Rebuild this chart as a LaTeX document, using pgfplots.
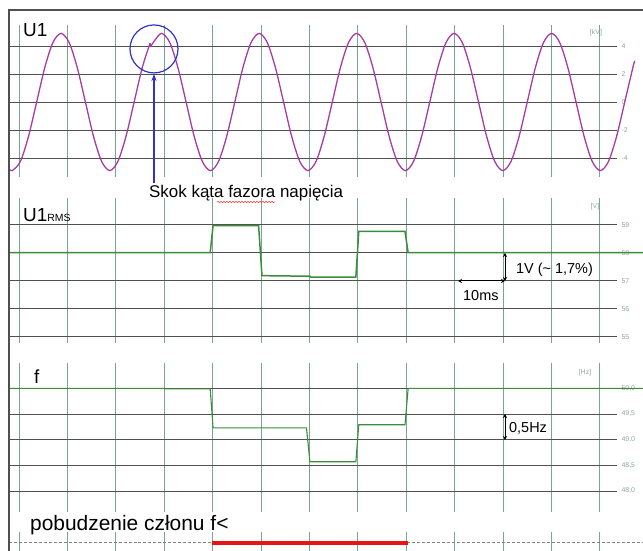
\documentclass[border=0pt]{standalone}
\usepackage{pgfplots}
\pgfplotsset{compat=1.18}
\usepackage{fontspec}
\setmainfont{Liberation Sans}
\usetikzlibrary{arrows.meta,decorations.pathmorphing}
\definecolor{vgrid}{RGB}{120,165,145}
\definecolor{hgrid}{RGB}{80,80,80}
\definecolor{lbl}{RGB}{140,168,158}
\definecolor{wave}{RGB}{165,60,165}
\definecolor{trace}{RGB}{60,140,60}
\definecolor{ann}{RGB}{50,50,200}
\definecolor{redsig}{RGB}{230,20,20}
\pgfplotsset{panel/.style={scale only axis, width=608bp, xmin=-2.066, xmax=123.55, clip=false,
  axis line style={draw=none}, tick style={draw=none},
  xtick={0,10,...,120}, xticklabels={}, xmajorgrids, ymajorgrids,
  x grid style={vgrid, line width=0.9bp}, y grid style={hgrid, line width=0.8bp},
  yticklabel pos=right,
  yticklabel style={font=\fontsize{7}{8}\selectfont, text=lbl, xshift=1bp}}}
\begin{document}
\begin{tikzpicture}
\useasboundingbox (0,0) rectangle (643bp,551bp);
% ---------------- U1
\begin{axis}[panel, at={(9bp,374bp)}, anchor=south west, height=152bp,
  ymin=-5.357, ymax=5.5, ytick={-4,-2,0,2,4}, yticklabels={-4,-2,0,2,4}]
\addplot[wave, line width=1.3bp, smooth] coordinates {
(-2.07,-4.79) (-1.39,-4.9) (0.29,-4.243) (1.97,-2.45) (3.65,0) (5.32,2.45) (7.00,4.243)
(8.68,4.9) (10.36,4.243) (12.04,2.45) (13.72,0) (15.39,-2.45) (17.07,-4.243) (18.75,-4.9)
(20.43,-4.243) (22.11,-2.45) (23.79,0) (25.46,2.45) (27.07,4.19)};
\addplot[wave, line width=1.3bp] coordinates {(27.07,4.19) (27.2,3.95)};
\addplot[wave, line width=1.3bp, smooth] coordinates {
(27.2,3.95) (28.0,4.38) (29.48,4.9) (31.16,4.243) (32.84,2.45) (34.52,0) (36.19,-2.45)
(37.87,-4.243) (39.55,-4.9) (41.23,-4.243) (42.91,-2.45) (44.59,0) (46.26,2.45) (47.94,4.243)
(49.62,4.9) (51.30,4.243) (52.98,2.45) (54.66,0) (56.33,-2.45) (58.01,-4.243) (59.69,-4.9)
(61.37,-4.243) (63.05,-2.45) (64.73,0) (66.40,2.45) (68.08,4.243) (69.76,4.9) (71.44,4.243)
(73.12,2.45) (74.80,0) (76.47,-2.45) (78.15,-4.243) (79.83,-4.9) (81.51,-4.243) (83.19,-2.45)
(84.87,0) (86.54,2.45) (88.22,4.243) (89.90,4.9) (91.58,4.243) (93.26,2.45) (94.94,0)
(96.61,-2.45) (98.29,-4.243) (99.97,-4.9) (101.65,-4.243) (103.33,-2.45) (105.01,0)
(106.68,2.45) (108.36,4.243) (110.04,4.9) (111.72,4.243) (113.40,2.45) (115.08,0)
(116.75,-2.45) (118.43,-4.243) (120.11,-4.9) (121.79,-4.243) (123.47,-2.45) (125.15,0)
(126.82,2.45) (127.2,2.93)};
\draw[ann, line width=1.2bp] (axis cs:27.89,3.79) circle[radius=24bp];
\end{axis}
% ---------------- U1 RMS
\begin{axis}[panel, at={(9bp,208bp)}, anchor=south west, height=145bp,
  ymin=54.775, ymax=59.954, ytick={55,56,57,58,59}, yticklabels={55,56,57,58,59}]
\addplot[trace, line width=1.5bp] coordinates {
(-2.07,58.0) (39.5,58.0) (40.1,58.97) (49.5,58.97) (50.2,57.18) (60.1,57.16) (60.3,57.13)
(69.6,57.13) (70.2,58.76) (79.75,58.76) (80.4,58.0) (128.9,58.0)};
\end{axis}
% ---------------- f
\begin{axis}[panel, at={(9bp,39bp)}, anchor=south west, height=149bp,
  ymin=47.591, ymax=50.493, ytick={48,48.5,49,49.5,50},
  yticklabels={{48,0},{48,5},{49,0},{49,5},{50,0}}]
\addplot[trace, line width=1.1bp] coordinates {
(-2.07,50.0) (30.0,50.0) (30.1,49.99) (39.5,49.99) (40.1,49.23) (59.4,49.23) (60.1,48.57)
(69.6,48.57) (70.2,49.29) (79.75,49.29) (80.4,50.0) (128.9,50.0)};
\end{axis}
% ---------------- pickup strip
\begin{axis}[panel, at={(9bp,0bp)}, anchor=south west, height=19bp,
  ymin=0, ymax=1, ytick=\empty, ymajorgrids=false]
\addplot[gray, densely dashed, line width=0.8bp] coordinates {(-2.07,0.437) (128.9,0.437)};
\addplot[redsig, line width=4bp] coordinates {(39.8,0.437) (80.4,0.437)};
\end{axis}
% ---------------- annotations (pixel coordinates)
\begin{scope}[x=1bp, y=-1bp, yshift=551bp]
\draw[hgrid, line width=2.2bp] (9,552) -- (9,10) -- (644,10);
\node[anchor=base west, inner sep=0, font=\fontsize{19}{22}\selectfont] at (23,37) {U1};
\node[anchor=base west, inner sep=0, font=\fontsize{19}{22}\selectfont] at (23,221.5) {U1{\fontsize{10.5}{12}\selectfont RMS}};
\node[anchor=base west, inner sep=0, font=\fontsize{19}{22}\selectfont] at (34,383.5) {f};
\node[anchor=base west, inner sep=0, font=\fontsize{17}{20}\selectfont] at (149,198) {Skok kąta fazora napięcia};
\draw[red!80, line width=0.5bp, decorate, decoration={snake, amplitude=0.7bp, segment length=3bp}] (217,202) -- (275,202);
\node[anchor=base west, inner sep=0, font=\fontsize{21}{24}\selectfont] at (30,531) {pobudzenie członu f<};
\node[anchor=base west, inner sep=0, font=\fontsize{14.5}{17}\selectfont] at (516,274) {1V (\textasciitilde{} 1,7\%)};
\node[anchor=base west, inner sep=0, font=\fontsize{14.5}{17}\selectfont] at (463,300.7) {10ms};
\node[anchor=base west, inner sep=0, font=\fontsize{14.5}{17}\selectfont] at (509,432.7) {0,5Hz};
\node[inner sep=0, font=\fontsize{7}{8}\selectfont, text=lbl] at (596,33) {[kV]};
\node[inner sep=0, font=\fontsize{7}{8}\selectfont, text=lbl] at (595,207) {[V]};
\node[inner sep=0, font=\fontsize{7}{8}\selectfont, text=lbl] at (585,373) {[Hz]};
\draw[line width=1bp, {Stealth[length=4bp,width=4bp]}-{Stealth[length=4bp,width=4bp]}] (505,253) -- (505,281);
\draw[line width=1bp, {Stealth[length=4bp,width=4bp]}-{Stealth[length=4bp,width=4bp]}] (458,281) -- (505,281);
\draw[line width=1bp, {Stealth[length=4bp,width=4bp]}-{Stealth[length=4bp,width=4bp]}] (505,414) -- (505,440);
\draw[ann, line width=1.5bp, -{Stealth[length=7bp,width=5bp]}] (154,183) -- (154,74);
\end{scope}
\end{tikzpicture}
\end{document}
